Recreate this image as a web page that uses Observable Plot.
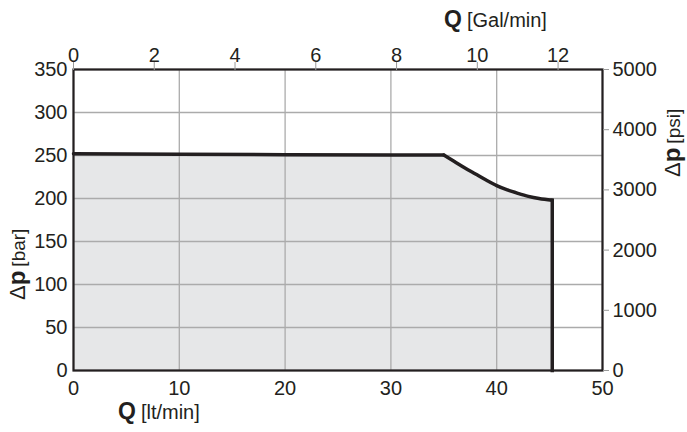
<!DOCTYPE html>
<html>
<head>
<meta charset="utf-8">
<script src="https://cdn.jsdelivr.net/npm/d3@7"></script>
<script src="https://cdn.jsdelivr.net/npm/@observablehq/plot@0.6"></script>
<style>
  html, body { margin: 0; padding: 0; background: #fff; }
  #chart { width: 687px; height: 432px; }
</style>
</head>
<body>
<div id="chart"></div>
<script>
// Data
const flowLt = [0, 10, 20, 30, 35, 36, 37, 38, 39, 40, 41, 42, 43, 44, 45.25, 45.25];
const pressureBar = [252, 251.5, 251, 250.5, 250.5, 243, 235.5, 228.5, 221.5, 215, 210, 206, 202.5, 200, 198, 0];
const ltTicks = [0, 10, 20, 30, 40, 50];
const barTicks = [0, 50, 100, 150, 200, 250, 300, 350];
const galTicks = [0, 2, 4, 6, 8, 10, 12];
const psiTicks = [0, 1000, 2000, 3000, 4000, 5000];
const galDomainMax = 13.1;   // top axis spans 0..13.1 Gal/min over 0..50 lt/min
const psiDomainMax = 5000;   // right axis spans 0..5000 psi over 0..350 bar

const ltPerGal = 50 / galDomainMax;
const barPerPsi = 350 / psiDomainMax;
const data = flowLt.map((x, i) => ({x, y: pressureBar[i]}));
const n = data.length;
const filled = data.slice(0, n - 1);      // profile up to the cut-off
const flatPart = data.slice(0, 5);        // constant-pressure segment
const curvePart = data.slice(4, n - 1);   // falling segment
const dropPart = data.slice(n - 2);       // vertical cut-off to zero

const ink = "#231f20";
const gridColor = "#ababab";
const font = "'Liberation Sans', Arial, Helvetica, sans-serif";
const fs = 20;

const plot = Plot.plot({
  width: 687,
  height: 432,
  marginLeft: 73,
  marginRight: 85,
  marginTop: 69,
  marginBottom: 62,
  style: {fontFamily: font, fontSize: fs + "px", color: ink, background: "#fff"},
  x: {domain: [0, 50]},
  y: {domain: [0, 350]},
  marks: [
    Plot.areaY(filled, {x: "x", y: "y", fill: "#e6e7e8", curve: "monotone-x"}),
    Plot.gridX(ltTicks, {stroke: gridColor, strokeOpacity: 1, strokeWidth: 1.3}),
    Plot.gridY(barTicks, {stroke: gridColor, strokeOpacity: 1, strokeWidth: 1.3}),
    Plot.line(flatPart, {x: "x", y: "y", stroke: ink, strokeWidth: 3.5}),
    Plot.line(curvePart, {x: "x", y: "y", stroke: ink, strokeWidth: 3.5, curve: "monotone-x"}),
    Plot.line(dropPart, {x: "x", y: "y", stroke: ink, strokeWidth: 3.5, strokeLinecap: "square"}),
    Plot.frame({stroke: ink, strokeWidth: 2.2}),
    Plot.axisX({anchor: "bottom", ticks: ltTicks, tickSize: 0, tickPadding: 10, label: null, fontSize: fs, fill: ink}),
    Plot.axisY({anchor: "left", ticks: barTicks, tickSize: 0, tickPadding: 6, label: null, fontSize: fs, fill: ink}),
    Plot.axisX({anchor: "top", ticks: galTicks.map(g => g * ltPerGal), tickFormat: d => String(Math.round(d / ltPerGal)),
      tickSize: 8, tickPadding: 0, stroke: "#9a9a9a", label: null, fontSize: fs, fill: ink}),
    Plot.axisY({anchor: "right", ticks: psiTicks.map(p => p * barPerPsi), tickFormat: d => String(Math.round(d / barPerPsi / 100) * 100),
      tickSize: 6, tickPadding: 4, stroke: "#9a9a9a", label: null, fontSize: fs, fill: ink})
  ]
});

document.getElementById("chart").appendChild(plot);

// Axis titles: regular Δ, bold symbol letter, regular unit
const svg = d3.select(plot);
function title(x, y, parts, rotate) {
  const t = svg.append("text")
    .attr("transform", `translate(${x},${y})` + (rotate ? " rotate(-90)" : ""))
    .attr("text-anchor", "start")
    .attr("fill", ink)
    .style("font-family", font);
  parts.forEach(p => {
    const s = t.append("tspan").attr("font-size", p.size).attr("font-weight", p.bold ? "bold" : "normal").text(p.text);
    if (p.dx) s.attr("dx", p.dx);
  });
}
title(118, 419, [{text: "Q", bold: true, size: 23}, {text: "[lt/min]", size: 20, dx: 5}], false);
title(444, 27, [{text: "Q", bold: true, size: 23}, {text: "[Gal/min]", size: 20, dx: 5}], false);
title(25, 300, [{text: "Δ", size: 22}, {text: "p", bold: true, size: 24}, {text: "[bar]", size: 19, dx: 4}], true);
title(680, 177, [{text: "Δ", size: 22}, {text: "p", bold: true, size: 24}, {text: "[psi]", size: 19, dx: 4}], true);
</script>
</body>
</html>
